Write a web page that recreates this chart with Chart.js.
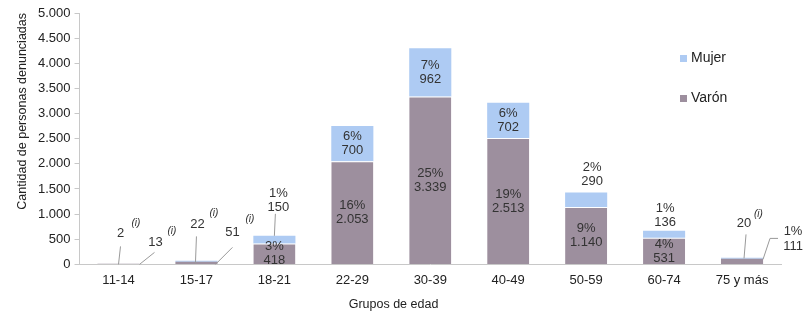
<!DOCTYPE html>
<html>
<head>
<meta charset="utf-8">
<script src="https://cdn.jsdelivr.net/npm/chart.js@4/dist/chart.umd.min.js"></script>
<style>
  html, body { margin: 0; padding: 0; background: #fff; }
  #wrap { width: 807px; height: 314px; }
</style>
</head>
<body>
<div id="wrap"><canvas id="chart"></canvas></div>
<script>
const categories = ['11-14', '15-17', '18-21', '22-29', '30-39', '40-49', '50-59', '60-74', '75 y más'];
const varon = [13, 51, 418, 2053, 3339, 2513, 1140, 531, 111];
const mujer = [2, 22, 150, 700, 962, 702, 290, 136, 20];
const varonPct = ['', '', '3%', '16%', '25%', '19%', '9%', '4%', '1%'];
const mujerPct = ['', '', '1%', '6%', '7%', '6%', '2%', '1%', ''];
const yMax = 5000;
const yStep = 500;

const FONT = "'Liberation Sans', Arial, sans-serif";
const TXT = '#333';

function fmt(n) {
  return String(n).replace(/\B(?=(\d{3})+(?!\d))/g, '.');
}

// dibuja numero con "(i)" en superindice
function supLabel(ctx, text, x, y, sx, sy) {
  ctx.font = '13px ' + FONT;
  ctx.textAlign = 'center';
  ctx.fillText(text, x, y);
  ctx.font = 'italic 10px ' + FONT;
  ctx.textAlign = 'left';
  ctx.fillText('(i)', sx, sy);
}

function line(ctx, pts) {
  ctx.beginPath();
  ctx.moveTo(pts[0][0], pts[0][1]);
  for (let i = 1; i < pts.length; i++) ctx.lineTo(pts[i][0], pts[i][1]);
  ctx.stroke();
}

const labelsPlugin = {
  id: 'labels',
  afterDatasetsDraw(chart) {
    const ctx = chart.ctx;
    const yScale = chart.scales.y;
    const mV = chart.getDatasetMeta(0).data;
    const mM = chart.getDatasetMeta(1).data;
    const base = yScale.getPixelForValue(0);
    ctx.save();
    ctx.fillStyle = TXT;
    ctx.strokeStyle = '#999';
    ctx.lineWidth = 1;
    ctx.textBaseline = 'middle';

    const two = (a, b, x, yc) => {
      ctx.font = '13px ' + FONT;
      ctx.textAlign = 'center';
      ctx.fillText(a, x, yc - 7);
      ctx.fillText(b, x, yc + 7);
    };

    categories.forEach((c, i) => {
      const cx = mV[i].x;
      const vTop = mV[i].y;
      const mTop = mM[i].y;
      if (i === 0 || i === 1) {
        const off = i === 0 ? [2, -31, 13, -41, 37, -22, 49, -33] : [1, -40, 13, -51, 36, -32, 49, -45];
        supLabel(ctx, fmt(mujer[i]), cx + off[0], base + off[1], cx + off[2], base + off[3]);
        supLabel(ctx, fmt(varon[i]), cx + off[4], base + off[5], cx + off[6], base + off[7]);
        if (i === 0) {
          line(ctx, [[cx, base], [cx + 2, base - 18]]);
          line(ctx, [[cx + 21, base], [cx + 36, base - 12]]);
        } else {
          line(ctx, [[cx - 1, base - 1], [cx, base - 28]]);
          line(ctx, [[cx + 19, base], [cx + 36, base - 17]]);
        }
      } else if (i === 8) {
        supLabel(ctx, fmt(mujer[i]), cx + 2, base - 41, cx + 12, base - 50);
        line(ctx, [[cx + 2, base - 6], [cx + 4, base - 30]]);
        ctx.font = '13px ' + FONT;
        ctx.textAlign = 'center';
        ctx.fillText(varonPct[i], cx + 51, base - 33);
        ctx.fillText(fmt(varon[i]), cx + 51, base - 18);
        line(ctx, [[cx + 21, base - 5], [cx + 28, base - 26], [cx + 36, base - 26]]);
      } else {
        // varon dentro del segmento
        two(varonPct[i], fmt(varon[i]), cx, (vTop + base) / 2);
        if (i === 2) {
          two(mujerPct[i], fmt(mujer[i]), cx + 4, mTop - 35);
          line(ctx, [[cx, mTop], [cx + 1, mTop - 22]]);
        } else if (i === 6) {
          two(mujerPct[i], fmt(mujer[i]), cx + 6, mTop - 18);
        } else if (i === 7) {
          two(mujerPct[i], fmt(mujer[i]), cx + 1, mTop - 15);
        } else {
          two(mujerPct[i], fmt(mujer[i]), cx, (mTop + vTop) / 2);
        }
      }
    });

    // leyenda
    const lx = chart.chartArea.right - 101;
    const ly = chart.chartArea.top;
    [[1, 45], [0, 85]].forEach(([d, dy]) => {
      const ds = chart.data.datasets[d];
      ctx.fillStyle = ds.backgroundColor;
      ctx.fillRect(lx, ly + dy - 3, 7, 7);
      ctx.fillStyle = '#222';
      ctx.font = '14px ' + FONT;
      ctx.textAlign = 'left';
      ctx.fillText(ds.label, lx + 11, ly + dy);
    });

    // titulo eje x
    ctx.font = '12.5px ' + FONT;
    ctx.textAlign = 'center';
    ctx.fillStyle = '#222';
    ctx.fillText('Grupos de edad', chart.chartArea.left + 314, base + 40);
    ctx.restore();
  }
};

const ctx = document.getElementById('chart').getContext('2d');
new Chart(ctx, {
  type: 'bar',
  data: {
    labels: categories,
    datasets: [{
      label: 'Varón',
      data: varon,
      backgroundColor: '#9d8f9e',
      borderColor: '#ffffff',
      borderWidth: c => (c.dataIndex >= 2 && c.dataIndex <= 7 ? { top: 1 } : 0),
      borderSkipped: false
    }, {
      label: 'Mujer',
      data: mujer,
      backgroundColor: '#aecbf3',
      borderWidth: 0
    }]
  },
  options: {
    responsive: true,
    maintainAspectRatio: false,
    animation: false,
    datasets: { bar: { barPercentage: 0.54, categoryPercentage: 1 } },
    layout: { padding: { top: 13, right: 26, left: 15, bottom: 26 } },
    plugins: {
      legend: { display: false },
      tooltip: { enabled: false }
    },
    scales: {
      x: {
        stacked: true,
        grid: { display: false },
        border: { display: true, color: '#c8c8c8' },
        ticks: { color: '#222', font: { family: FONT, size: 13 }, padding: 0 }
      },
      y: {
        stacked: true,
        min: 0,
        max: yMax,
        grid: { display: true, drawOnChartArea: false, drawTicks: true, tickLength: 5, color: '#c8c8c8' },
        border: { display: true, color: '#c8c8c8' },
        ticks: {
          stepSize: yStep,
          color: '#222',
          font: { family: FONT, size: 13 },
          padding: 4,
          callback: v => fmt(v)
        },
        title: {
          display: true,
          text: 'Cantidad de personas denunciadas',
          align: 'end',
          color: '#222',
          font: { family: FONT, size: 12.5 },
          padding: { top: 0, bottom: 4 }
        }
      }
    }
  },
  plugins: [labelsPlugin]
});
</script>
</body>
</html>
